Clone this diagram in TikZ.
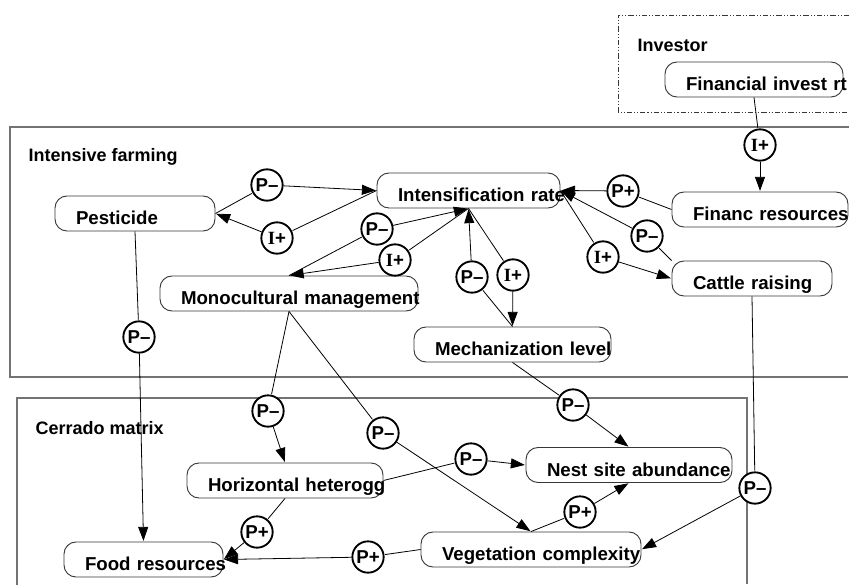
\documentclass[tikz,border=0pt]{standalone}
\usepackage{fontspec}
\setmainfont{Liberation Sans}
\newfontfamily\serifI{Liberation Serif}
\usetikzlibrary{arrows.meta}

\definecolor{framegray}{RGB}{115,115,115}
\definecolor{boxgray}{RGB}{55,55,55}
\newcommand{\Iplus}{{\serifI\bfseries I}+}
\newcommand{\Pplus}{P+}
\newcommand{\Pminus}{P–}

\tikzset{
  box/.style={draw=boxgray, line width=0.7pt, rounded corners=9pt,
    minimum height=26.25pt, inner xsep=15.75pt, inner ysep=0pt, align=left,
    text height=17pt, text depth=0pt,
    font=\fontsize{14}{16}\selectfont\bfseries,
    execute at begin node=\hbox\bgroup, execute at end node=\egroup},
  sign/.style={circle, draw, line width=1.4pt, fill=white, minimum size=23.5pt,
    inner sep=0pt, font=\fontsize{14}{16}\selectfont\bfseries},
  region/.style={draw=framegray, line width=1pt},
  investor/.style={draw=boxgray, line width=0.6pt,
    dash pattern=on 4pt off 1.5pt on 0.8pt off 1.5pt on 0.8pt off 1.5pt},
  regionlabel/.style={anchor=west, font=\fontsize{13.5}{16}\selectfont\bfseries},
  link/.style={line width=0.6pt}
}

\begin{document}
\begin{tikzpicture}[x=0.75pt, y=-0.75pt, >={Triangle[length=10.5pt,width=7.5pt]}, shorten >=0.5pt]
  \useasboundingbox (0,0) rectangle (849,585);

  % regions
  \draw[investor] (849,15) -- (618,15) -- (618,112) -- (849,112);
  \draw[region] (849,127) -- (10,127) -- (10,377) -- (849,377);
  \draw[region] (17,585) -- (17,398) -- (747,398) -- (747,585);
  \node[regionlabel] (investorlabel) at (633,45) {Investor};
  \node[regionlabel] (farmlabel)     at (24,157) {Intensive farming};
  \node[regionlabel] (cerradolabel)  at (31,428) {Cerrado matrix};

  % factors
  \node[box, text width=102pt]    (fin)    at (754,79.5)    {Financial invest rt};
  \node[box, text width=105.75pt] (ir)     at (468.5,190.5) {Intensification rate};
  \node[box, text width=88.5pt]   (pest)   at (135,213.5)   {Pesticide};
  \node[box, text width=162pt]    (mono)   at (289,293.5)   {Monocultural management};
  \node[box, text width=100.5pt]  (finres) at (760,209.5)   {Financ resources};
  \node[box, text width=88.5pt]   (cattle) at (752,278.5)   {Cattle raising};
  \node[box, text width=116.25pt] (mech)   at (512.5,344.5) {Mechanization level};
  \node[box, text width=115.5pt]  (horiz)  at (285,480.5)   {Horizontal heterogg};
  \node[box, text width=87.75pt]  (food)   at (143.5,559.5) {Food resources};
  \node[box, text width=123pt]    (nest)   at (629,465)     {Nest site abundance};
  \node[box, text width=133.5pt]  (veg)    at (531,549.5)   {Vegetation complexity};

  % influences
  \node[sign] (s1)  at (760,145) {\Iplus};
  \node[sign] (s2)  at (623,191) {\Pplus};
  \node[sign] (s3)  at (647,236) {\Pminus};
  \node[sign] (s4)  at (603,257) {\Iplus};
  \node[sign] (s5)  at (513,275) {\Iplus};
  \node[sign] (s6)  at (472,277) {\Pminus};
  \node[sign] (s7)  at (267,185) {\Pminus};
  \node[sign] (s8)  at (277,238) {\Iplus};
  \node[sign] (s9)  at (377,229) {\Pminus};
  \node[sign] (s10) at (395,260) {\Iplus};
  \node[sign] (s11) at (139,337) {\Pminus};
  \node[sign] (s12) at (268,411) {\Pminus};
  \node[sign] (s13) at (383,433) {\Pminus};
  \node[sign] (s14) at (471,459) {\Pminus};
  \node[sign] (s15) at (573,405) {\Pminus};
  \node[sign] (s16) at (580,512) {\Pplus};
  \node[sign] (s17) at (755,488) {\Pminus};
  \node[sign] (s18) at (257,532) {\Pplus};
  \node[sign] (s19) at (368,557) {\Pplus};

  \path[link]
    (fin.south)         edge (s1)   (s1)  edge[->] (finres.north)
    (finres.west)       edge (s2)   (s2)  edge[->] (ir.east)
    (cattle.north west) edge (s3)   (s3)  edge[->] (ir.east)
    (ir.east)           edge (s4)   (s4)  edge[->] (cattle.west)
    (ir.south)          edge (s5)   (s5)  edge[->] (mech.north)
    (mech.north)        edge (s6)   (s6)  edge[->] (ir.south)
    (pest.east)         edge (s7)   (s7)  edge[->] (ir.west)
    (ir.west)           edge (s8)   (s8)  edge[->] (pest.east)
    (mono.north)        edge (s9)   (s9)  edge[->] (ir.south)
    (ir.south)          edge (s10)  (s10) edge[->] (mono.north)
    (pest.south)        edge (s11)  (s11) edge[->] (food.north)
    (mono.south)        edge (s12)  (s12) edge[->] (horiz.north)
    (mono.south)        edge (s13)  (s13) edge[->] (veg.north)
    (horiz.east)        edge (s14)  (s14) edge[->] (nest.west)
    (mech.south)        edge (s15)  (s15) edge[->] (nest.north)
    (veg.north)         edge (s16)  (s16) edge[->] (nest.south)
    (cattle.south)      edge (s17)  (s17) edge[->] (veg.east)
    (horiz.south)       edge (s18)  (s18) edge[->] (food.east)
    (veg.west)          edge (s19)  (s19) edge[->] (food.east);
\end{tikzpicture}
\end{document}
